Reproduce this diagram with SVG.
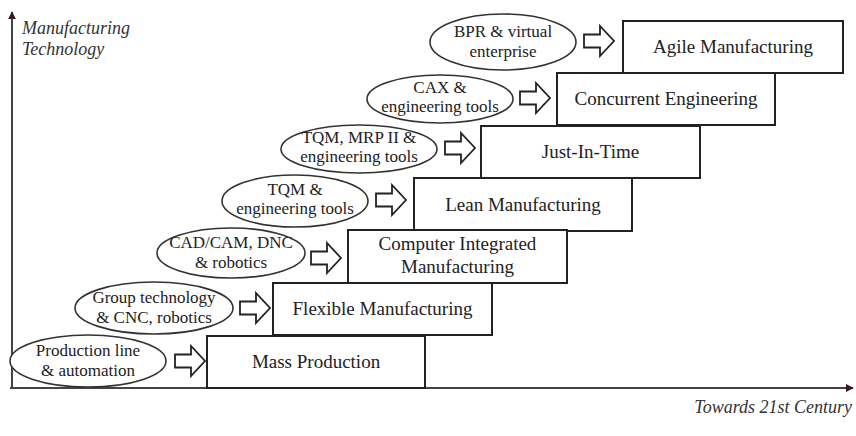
<svg xmlns="http://www.w3.org/2000/svg" width="856" height="436" viewBox="0 0 856 436">
<style>
.box{fill:#fff;stroke:#222;stroke-width:2}
.ell{fill:#fff;stroke:#333;stroke-width:1.6}
.arr{fill:#fff;stroke:#222;stroke-width:1.8;stroke-linejoin:miter}
.bt{font-family:"Liberation Serif",serif;font-size:19px;fill:#222;text-anchor:middle}
.et{font-family:"Liberation Serif",serif;font-size:17px;fill:#222;text-anchor:middle}
.ax{font-family:"Liberation Serif",serif;font-size:18px;font-style:italic;fill:#333}
.axis{stroke:#444;stroke-width:2;fill:none}
</style>
<defs>
<path id="blk" d="M0,-6.5 H16 V-15 L30,0 L16,15 V6.5 H0 Z"/>
<marker id="ah" viewBox="0 0 10 10" refX="9" refY="5" markerWidth="4" markerHeight="4" orient="auto">
<path d="M0,0 L10,5 L0,10 Z" fill="#3a1a1a"/>
</marker>
</defs>
<g id="axes">
<line class="axis" x1="12" y1="389" x2="12" y2="12" marker-end="url(#ah)"/>
<line class="axis" x1="10" y1="388" x2="853" y2="388" marker-end="url(#ah)"/>
<text class="ax" x="22" y="34">Manufacturing</text>
<text class="ax" x="22" y="55">Technology</text>
<text class="ax" x="852" y="413" text-anchor="end">Towards 21st Century</text>
</g>
<g id="n-agile"><rect class="box" x="623" y="21" width="220" height="52"/><text class="bt" x="733" y="53">Agile Manufacturing</text></g>
<g id="n-ce"><rect class="box" x="557" y="73" width="218" height="52"/><text class="bt" x="666" y="105">Concurrent Engineering</text></g>
<g id="n-jit"><rect class="box" x="481" y="126" width="219" height="52"/><text class="bt" x="590.5" y="158">Just-In-Time</text></g>
<g id="n-lean"><rect class="box" x="414" y="178" width="218" height="53"/><text class="bt" x="523" y="211">Lean Manufacturing</text></g>
<g id="n-cim"><rect class="box" x="348" y="230" width="219" height="53"/><text class="bt" x="457.5" y="250">Computer Integrated</text><text class="bt" x="457.5" y="273">Manufacturing</text></g>
<g id="n-flex"><rect class="box" x="273" y="283" width="219" height="52"/><text class="bt" x="382.5" y="315">Flexible Manufacturing</text></g>
<g id="n-mass"><rect class="box" x="207" y="336" width="218" height="52"/><text class="bt" x="316" y="368">Mass Production</text></g>
<g id="e-bpr"><ellipse class="ell" cx="503" cy="42" rx="73" ry="28"/><text class="et" x="503" y="37">BPR &amp; virtual</text><text class="et" x="503" y="57">enterprise</text></g>
<g id="e-cax"><ellipse class="ell" cx="440" cy="99" rx="73" ry="24"/><text class="et" x="440" y="93">CAX &amp;</text><text class="et" x="440" y="112">engineering tools</text></g>
<g id="e-mrp"><ellipse class="ell" cx="359" cy="149" rx="78" ry="24"/><text class="et" x="359" y="143">TQM, MRP II &amp;</text><text class="et" x="359" y="162">engineering tools</text></g>
<g id="e-tqm"><ellipse class="ell" cx="295" cy="201" rx="73" ry="26"/><text class="et" x="295" y="195">TQM &amp;</text><text class="et" x="295" y="214">engineering tools</text></g>
<g id="e-cad"><ellipse class="ell" cx="231" cy="253" rx="74" ry="25"/><text class="et" x="231" y="248">CAD/CAM, DNC</text><text class="et" x="231" y="268">&amp; robotics</text></g>
<g id="e-gt"><ellipse class="ell" cx="154" cy="308" rx="79" ry="26"/><text class="et" x="154" y="303">Group technology</text><text class="et" x="154" y="323">&amp; CNC, robotics</text></g>
<g id="e-pl"><ellipse class="ell" cx="88" cy="361" rx="78" ry="26"/><text class="et" x="88" y="356">Production line</text><text class="et" x="88" y="376">&amp; automation</text></g>
<g id="connectors">
<use href="#blk" class="arr" x="175" y="361"/>
<use href="#blk" class="arr" x="240" y="308"/>
<use href="#blk" class="arr" x="311" y="258"/>
<use href="#blk" class="arr" x="376" y="200"/>
<use href="#blk" class="arr" x="445" y="148"/>
<use href="#blk" class="arr" x="520" y="98"/>
<use href="#blk" class="arr" x="584" y="41"/>
</g>
</svg>
